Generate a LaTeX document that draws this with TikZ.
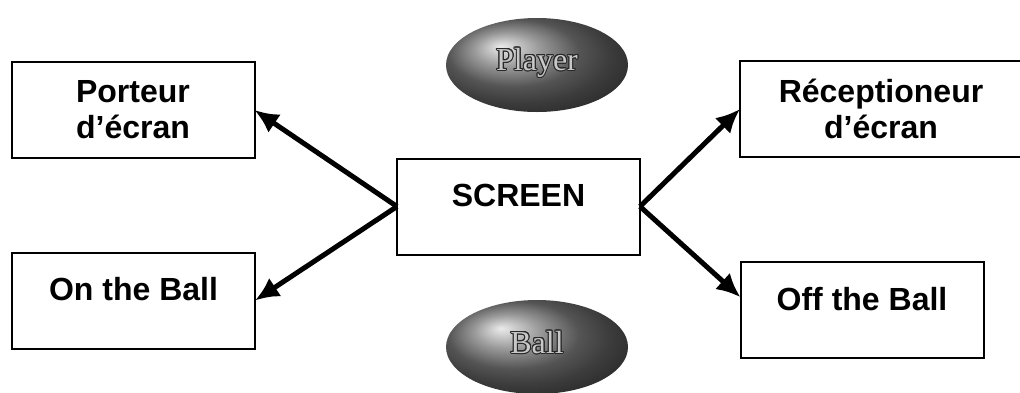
\documentclass[tikz,border=0pt]{standalone}
\usepackage{fontspec}
\setmainfont{Liberation Sans}
\newfontfamily\ovalfont{Liberation Serif}
\usepackage[copies]{contour}
\contourlength{0.5pt}
\usepackage{tikz}
\usetikzlibrary{arrows.meta, shapes.geometric}
\definecolor{ovalgray}{RGB}{120, 120, 120}
\definecolor{ovaltext}{RGB}{200, 200, 200}
\definecolor{ovalline}{RGB}{40, 40, 40}

\begin{document}
\begin{tikzpicture}[x=0.5pt, y=-0.5pt,
  box/.style={draw, line width=1pt, inner sep=0pt, outer sep=0pt, align=center,
    minimum width=121.5pt, minimum height=48pt,
    font=\fontsize{16}{18}\selectfont\bfseries},
  oneline/.style={text height=11.5pt, text depth=11.5pt},
  oval/.style={ellipse, shading=ball, ball color=ovalgray, inner sep=0pt,
    minimum width=91pt, minimum height=47pt, text=ovaltext,
    font=\fontsize{16}{18}\selectfont\ovalfont},
  arrow/.style={-{Latex[length=12pt, width=11pt]}, line width=2.5pt}
]
\useasboundingbox (0,0) rectangle (1020,392);
\node[box] (porteur) at (133,110) {Porteur\\d’écran};
\node[box, oneline] (onball) at (133.5,300.5) {On the Ball};
\node[box, oneline] (screen) at (518.5,206.5) {SCREEN};
\node[box, minimum width=141pt] (recep) at (881,109) {Réceptioneur\\d’écran};
\node[box, oneline] (offball) at (862,310) {Off the Ball};
\node[oval] (player) at (537,65) {\raisebox{6pt}{\contour{ovalline}{Player}}};
\node[oval] (ball) at (537,347) {\raisebox{5pt}{\contour{ovalline}{Ball}}};
\draw[arrow] (screen.west) -- (porteur.east);
\draw[arrow] (screen.west) -- (onball.east);
\draw[arrow] (screen.east) -- (recep.west);
\draw[arrow] (screen.east) -- (offball.174);
\end{tikzpicture}
\end{document}
